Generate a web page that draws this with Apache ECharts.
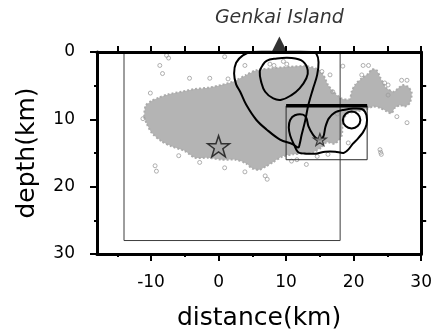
<!DOCTYPE html>
<html>
<head>
<meta charset="utf-8">
<script src="https://cdn.jsdelivr.net/npm/echarts@6/dist/echarts.min.js"></script>
<style>
html, body { margin: 0; padding: 0; background: #fff; }
#main { width: 435px; height: 336px; }
</style>
</head>
<body>
<div id="main"></div>
<script>
// axis ranges and ticks (km)
var xRange = [-18, 30];
var yRange = [0, 30];
var xMajorTicks = [-10, 0, 10, 20, 30];
var xMinorTicks = [-15, -5, 5, 15, 25];
var yMajorTicks = [0, 10, 20, 30];
var yMinorTicks = [5, 15, 25];
var topTicks = [-15, -10, -5, 0, 5, 10, 15, 20, 25, 30];
var rightTicks = [5, 10, 15, 20, 25];

// outline of the dense hypocentre cloud [distance, depth]
var cloudOutline = [
  [-11.0, 9.6], [-10.8, 8.0], [-10.0, 7.3], [-8.9, 6.8], [-7.5, 6.3], [-5.5, 5.9],
  [-3.5, 5.5], [-1.5, 5.3], [0.4, 4.9], [2.4, 4.3], [4.1, 3.4], [5.6, 2.7],
  [8.1, 2.4], [10.6, 2.2], [13.0, 2.1], [14.5, 2.5], [15.5, 3.4], [16.2, 4.9],
  [17.0, 5.9], [18.2, 6.9], [19.4, 7.0], [19.7, 5.9], [20.2, 4.9], [21.2, 3.9],
  [22.2, 3.2], [22.7, 2.6], [23.4, 2.7], [23.9, 3.7], [24.4, 4.7], [24.9, 5.4],
  [25.9, 5.9], [26.6, 5.4], [27.3, 4.9], [28.1, 5.2], [28.6, 6.1], [28.3, 7.6],
  [27.6, 8.1], [26.9, 7.9], [26.1, 8.3], [25.6, 9.1], [24.9, 8.8], [23.9, 8.3],
  [22.9, 8.1], [21.6, 8.6], [20.6, 8.8], [19.0, 9.2], [18.4, 10.5], [18.2, 12.5],
  [17.2, 13.6], [16.0, 13.4], [15.2, 14.2], [14.0, 14.9], [12.5, 15.1], [11.0, 15.2],
  [9.5, 15.5], [8.0, 16.4], [7.0, 17.0], [6.0, 17.5], [5.0, 17.3], [4.0, 16.5],
  [2.5, 16.0], [0.5, 16.0], [-1.5, 15.7], [-3.5, 15.7], [-5.0, 14.7], [-7.0, 14.0],
  [-8.4, 13.3], [-9.9, 12.0], [-10.7, 10.5]
];
// scattered hypocentres outside the dense cloud
var outlierQuakes = [
  [-8.7, 2.0], [-8.3, 3.2], [-7.7, 0.5], [-7.4, 0.9], [-4.3, 3.9], [-1.3, 3.9],
  [1.4, 4.0], [0.9, 0.7], [3.9, 2.0], [-10.1, 6.1], [-11.2, 9.9], [-9.4, 16.9],
  [-9.2, 17.7], [-5.9, 15.4], [-2.8, 16.4], [0.9, 17.2], [3.9, 17.8], [6.9, 18.4],
  [7.2, 18.9], [8.2, 2.0], [9.6, 1.4], [10.1, 1.8], [7.6, 1.8], [15.3, 2.9],
  [16.5, 3.4], [16.9, 5.9], [18.4, 2.1], [21.4, 2.0], [22.2, 2.0], [21.2, 3.4],
  [24.6, 4.6], [25.1, 4.9], [27.1, 4.2], [27.9, 4.2], [25.1, 6.4], [26.4, 9.6],
  [27.9, 10.5], [23.9, 14.5], [24.0, 14.9], [24.1, 15.2], [10.8, 16.2], [11.6, 16.0],
  [13.0, 16.7], [14.6, 15.5], [16.2, 15.2], [19.2, 13.5], [17.6, 9.2]
];

// contour lines
var outerContour = [
  [5.0, 0], [3.6, 0.5], [2.6, 1.6], [2.3, 3.2], [2.6, 4.8], [3.2, 5.9], [4.1, 7.85],
  [5.6, 10.1], [7.1, 11.5], [9.1, 13.0], [11.0, 13.7], [11.8, 14.2], [12.0, 13.7],
  [12.3, 12.3], [12.8, 10.3], [13.3, 7.85], [14.0, 5.4], [14.6, 3.4], [14.8, 1.5],
  [14.5, 0.3], [13.8, 0], [9.0, 0]
];
var innerContour = [
  [6.5, 2.0], [7.1, 1.3], [8.3, 1.0], [10.8, 0.9], [12.5, 1.4], [13.2, 2.7],
  [13.0, 3.9], [12.0, 5.4], [10.8, 6.4], [9.3, 7.1], [8.1, 6.9], [6.9, 5.9],
  [6.3, 4.4], [6.1, 2.9]
];
var boxContour = [
  [11.8, 14.9], [11.1, 13.6], [10.6, 12.4], [10.4, 11.2], [10.6, 10.1], [11.3, 9.4],
  [12.5, 9.3], [13.0, 9.8], [13.3, 11.0], [14.0, 12.3], [14.8, 13.0], [15.5, 12.6],
  [15.8, 11.2], [16.3, 9.9], [17.2, 9.0], [18.5, 8.6], [19.9, 8.4], [21.3, 8.5],
  [21.9, 9.4], [21.9, 10.8], [21.4, 11.9], [20.6, 12.9], [19.9, 13.6], [19.2, 14.5],
  [18.5, 15.0], [17.3, 14.8], [15.8, 14.8], [14.3, 15.1], [13.0, 15.1]
];
var smallContour = [
  [19.7, 8.85], [20.6, 9.2], [21.0, 10.1], [20.6, 11.0], [19.7, 11.35],
  [18.8, 11.0], [18.4, 10.1], [18.8, 9.2]
];

// study areas
var bigRect = [[-14, 0], [18, 0], [18, 28], [-14, 28], [-14, 0]];
var smallRect = [[10, 8], [22, 8], [22, 16], [10, 16], [10, 8]];
var smallRectTop = [[10, 8], [22, 8]];

// events and station
var mainShock = [[0, 14]];
var subShock = [[15, 13]];
var genkai = [[9, 0]];
var genkaiName = 'Genkai Island';

var FONT = 'DejaVu Sans';
var starPath = 'path://M12,0 L14.9,8.6 L24,8.7 L16.7,14.1 L19.4,22.8 L12,17.6 L4.6,22.8 L7.3,14.1 L0,8.7 L9.1,8.6 Z';

function polygonSeries(points, style, smooth, z) {
  return {
    type: 'custom',
    coordinateSystem: 'cartesian2d',
    silent: true,
    z: z,
    data: [points[0]],
    renderItem: function (params, api) {
      return {
        type: 'polygon',
        shape: {
          points: points.map(function (p) { return api.coord(p); }),
          smooth: smooth
        },
        style: style
      };
    }
  };
}

function tickAxis(dim, pos, ticks, len, extra) {
  var ax = {
    type: 'value',
    position: pos,
    min: dim === 'x' ? xRange[0] : yRange[0],
    max: dim === 'x' ? xRange[1] : yRange[1],
    inverse: dim === 'y',
    offset: 0,
    z: 5,
    axisLine: { show: false, onZero: false },
    axisTick: { show: true, customValues: ticks, length: len, lineStyle: { color: '#000', width: 2 } },
    axisLabel: { show: false },
    splitLine: { show: false }
  };
  for (var k in extra) ax[k] = extra[k];
  return ax;
}

var frameLine = { show: true, onZero: false, lineStyle: { color: '#000', width: 3 } };

var myChart = echarts.init(document.getElementById('main'));

var option = {
  animation: false,
  backgroundColor: '#fff',
  grid: { left: 97, right: 13, top: 52, bottom: 80 },
  xAxis: [
    tickAxis('x', 'bottom', xMajorTicks, 7, {
      axisLine: frameLine,
      axisLabel: { show: true, customValues: xMajorTicks, margin: 20, fontSize: 17, fontFamily: FONT, color: '#000' },
      name: 'distance(km)',
      nameLocation: 'middle',
      nameGap: 52,
      nameTextStyle: { fontSize: 25, fontFamily: FONT, color: '#000' }
    }),
    tickAxis('x', 'top', topTicks, 6, { axisLine: frameLine }),
    tickAxis('x', 'bottom', xMinorTicks, 3, {})
  ],
  yAxis: [
    tickAxis('y', 'left', yMajorTicks, 7, {
      axisLine: frameLine,
      axisLabel: { show: true, customValues: yMajorTicks, margin: 22, fontSize: 17, fontFamily: FONT, color: '#000' },
      name: 'depth(km)',
      nameLocation: 'middle',
      nameGap: 57,
      nameTextStyle: { fontSize: 25, fontFamily: FONT, color: '#000' }
    }),
    tickAxis('y', 'right', rightTicks, 5, { axisLine: frameLine }),
    tickAxis('y', 'left', yMinorTicks, 3, {})
  ],
  series: [
    // dense cloud of hypocentres
    polygonSeries(cloudOutline, { fill: '#b4b4b4', stroke: '#ababab', lineWidth: 2, lineDash: [2, 2] }, 0.25, 1),
    {
      type: 'scatter',
      data: outlierQuakes,
      symbol: 'circle',
      symbolSize: 4,
      silent: true,
      z: 2,
      itemStyle: { color: 'rgba(0,0,0,0)', borderColor: '#9c9c9c', borderWidth: 1 }
    },
    {
      type: 'line',
      data: bigRect,
      symbol: 'none',
      silent: true,
      z: 3,
      lineStyle: { color: '#3c3c3c', width: 1 }
    },
    {
      type: 'line',
      data: smallRect,
      symbol: 'none',
      silent: true,
      z: 3,
      lineStyle: { color: '#2a2a2a', width: 1 }
    },
    {
      type: 'line',
      data: smallRectTop,
      symbol: 'none',
      silent: true,
      z: 3,
      lineStyle: { color: '#000', width: 3.5 }
    },
    polygonSeries(outerContour, { fill: 'none', stroke: '#000', lineWidth: 2 }, 0.35, 4),
    polygonSeries(innerContour, { fill: 'none', stroke: '#000', lineWidth: 2 }, 0.4, 4),
    polygonSeries(boxContour, { fill: 'none', stroke: '#000', lineWidth: 2 }, 0.3, 4),
    polygonSeries(smallContour, { fill: 'none', stroke: '#000', lineWidth: 2 }, 0.5, 4),
    {
      type: 'scatter',
      data: mainShock,
      symbol: starPath,
      symbolSize: [22, 21],
      silent: true,
      z: 6,
      itemStyle: { color: '#a6a6a6', borderColor: '#111', borderWidth: 1.5 }
    },
    {
      type: 'scatter',
      data: subShock,
      symbol: starPath,
      symbolSize: [13, 12],
      silent: true,
      z: 6,
      itemStyle: { color: '#9a9a9a', borderColor: '#222', borderWidth: 1.2 }
    },
    {
      type: 'scatter',
      data: genkai,
      symbol: 'triangle',
      symbolSize: [15, 15],
      symbolOffset: [0, -8],
      clip: false,
      silent: true,
      z: 10,
      itemStyle: { color: '#000' },
      label: {
        show: true,
        position: 'top',
        distance: 9,
        formatter: genkaiName,
        fontStyle: 'italic',
        fontSize: 19,
        fontFamily: FONT,
        color: '#000'
      }
    }
  ]
};

myChart.setOption(option);
</script>
</body>
</html>
